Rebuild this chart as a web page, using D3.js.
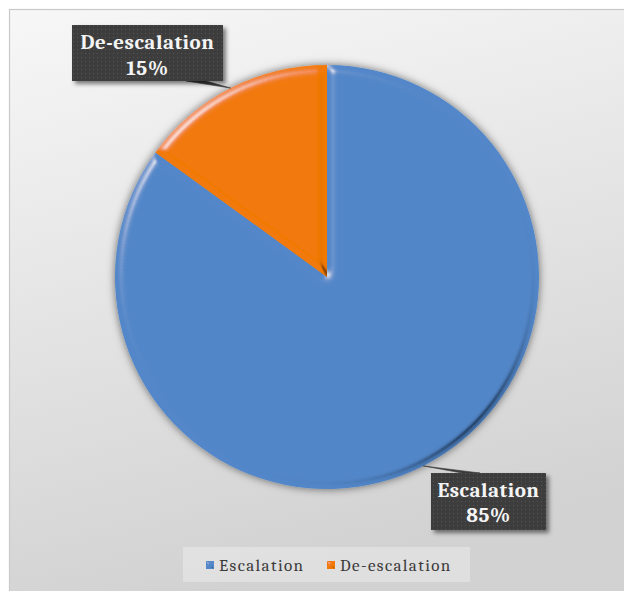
<!DOCTYPE html>
<html>
<head>
<meta charset="utf-8">
<script src="https://cdn.jsdelivr.net/npm/d3@7"></script>
<style>
  html, body { margin: 0; padding: 0; background: #ffffff; }
  svg { display: block; }
</style>
</head>
<body>
<svg id="chart" width="624" height="591"></svg>
<script>
// Share of cases by direction
const categories = ["Escalation", "De-escalation"];
const values = [85, 15];
const colors = ["#5287c9", "#f27a0a"];

const W = 624, H = 591;
const cx = 327, cy = 277, R = 212;
const serif = "Cambria, 'Liberation Serif', 'DejaVu Serif', serif";

const svg = d3.select("#chart");
const defs = svg.append("defs");

// Panel background gradient
const bg = defs.append("linearGradient").attr("id", "bgGrad")
  .attr("x1", 0).attr("y1", 0).attr("x2", 0.25).attr("y2", 1);
bg.append("stop").attr("offset", "0%").attr("stop-color", "#f7f7f7");
bg.append("stop").attr("offset", "100%").attr("stop-color", "#d2d2d2");

// Bevel: highlight from top-left, shade toward bottom-right
function makeBevel(id, blur, scale) {
  const f = defs.append("filter").attr("id", id)
    .attr("x", "-5%").attr("y", "-5%").attr("width", "110%").attr("height", "110%");
  f.append("feGaussianBlur").attr("in", "SourceAlpha").attr("stdDeviation", blur).attr("result", "blur");
  const hl = f.append("feSpecularLighting").attr("in", "blur")
    .attr("surfaceScale", scale).attr("specularConstant", 0.6).attr("specularExponent", 40)
    .attr("lighting-color", "#ffffff").attr("result", "hl");
  hl.append("feDistantLight").attr("azimuth", 225).attr("elevation", 35);
  f.append("feComposite").attr("in", "hl").attr("in2", "SourceAlpha").attr("operator", "in").attr("result", "hlIn");
  const sh = f.append("feSpecularLighting").attr("in", "blur")
    .attr("surfaceScale", scale).attr("specularConstant", 1).attr("specularExponent", 35)
    .attr("lighting-color", "#ffffff").attr("result", "shRaw");
  sh.append("feDistantLight").attr("azimuth", 45).attr("elevation", 30);
  f.append("feColorMatrix").attr("in", "shRaw").attr("type", "matrix")
    .attr("values", "0 0 0 0 0  0 0 0 0 0  0 0 0 0 0  0 0 0 0.75 0").attr("result", "shDark");
  f.append("feComposite").attr("in", "shDark").attr("in2", "SourceAlpha").attr("operator", "in").attr("result", "shIn");
  const m = f.append("feMerge");
  m.append("feMergeNode").attr("in", "SourceGraphic");
  m.append("feMergeNode").attr("in", "shIn");
  m.append("feMergeNode").attr("in", "hlIn");
}
makeBevel("bevel", 4.5, 5);
makeBevel("bevelSmall", 1, 2);

// Soft shadow around the whole pie
const pieShadow = defs.append("filter").attr("id", "pieShadow")
  .attr("x", "-10%").attr("y", "-10%").attr("width", "120%").attr("height", "120%");
pieShadow.append("feDropShadow").attr("dx", 0).attr("dy", 0).attr("stdDeviation", 4)
  .attr("flood-color", "#000").attr("flood-opacity", 0.55);

// Callout box shadow
const boxShadow = defs.append("filter").attr("id", "boxShadow")
  .attr("x", "-10%").attr("y", "-10%").attr("width", "130%").attr("height", "140%");
boxShadow.append("feDropShadow").attr("dx", 3).attr("dy", 3).attr("stdDeviation", 2)
  .attr("flood-color", "#000").attr("flood-opacity", 0.5);

// Dotted texture for callout boxes
const pat = defs.append("pattern").attr("id", "dots")
  .attr("width", 4).attr("height", 4).attr("patternUnits", "userSpaceOnUse");
pat.append("rect").attr("width", 4).attr("height", 4).attr("fill", "#3d3d3d");
pat.append("rect").attr("x", 1).attr("y", 1).attr("width", 1).attr("height", 1).attr("fill", "#555555");

// Panel
svg.append("rect").attr("x", 9.5).attr("y", 9.5).attr("width", W).attr("height", H)
  .attr("fill", "url(#bgGrad)").attr("stroke", "#c9c9c9").attr("stroke-width", 1.2);

// Pie
const pie = d3.pie().sort(null).value(d => d.value).startAngle(0).endAngle(2 * Math.PI);
const data = categories.map((c, i) => ({ name: c, value: values[i], color: colors[i] }));
const arcs = pie(data);
const arc = d3.arc().innerRadius(0).outerRadius(R);
const rim = d3.arc().innerRadius(R).outerRadius(R);

const g = svg.append("g").attr("transform", `translate(${cx},${cy})`);
const pieG = g.append("g").attr("filter", "url(#pieShadow)");
pieG.selectAll("path.slice").data(arcs).join("path")
  .attr("class", "slice")
  .attr("d", arc)
  .attr("fill", d => d.data.color)
  .attr("filter", "url(#bevel)");

// Callouts
const total = d3.sum(values);
const callouts = [
  { name: "De-escalation", box: [72, 25, 151, 56], anchor: [[186, 81], [206, 81]], lines: [49, 75] },
  { name: "Escalation", box: [431, 473, 115, 57], anchor: [[462, 473], [480, 473]], lines: [497, 522] }
];

callouts.forEach(co => {
  const d = arcs.find(a => a.data.name === co.name);
  const p = rim.centroid(d);
  const px = cx + p[0], py = cy + p[1];
  // leader wedge from box edge to slice rim
  svg.append("path")
    .attr("d", `M${co.anchor[0][0]},${co.anchor[0][1]} L${px},${py} L${co.anchor[1][0]},${co.anchor[1][1]} Z`)
    .attr("fill", "#3d3d3d").attr("stroke", "#3d3d3d").attr("stroke-width", 0.6);
  const [bx, by, bw, bh] = co.box;
  svg.append("rect").attr("x", bx).attr("y", by).attr("width", bw).attr("height", bh)
    .attr("fill", "url(#dots)").attr("filter", "url(#boxShadow)");
  const tx = bx + bw / 2;
  const txt = svg.append("g").attr("font-family", serif).attr("font-weight", "bold")
    .attr("font-size", 21).attr("fill", "#f4f4f4").attr("text-anchor", "middle");
  txt.append("text").attr("x", tx).attr("y", co.lines[0]).attr("letter-spacing", 0.5).text(d.data.name);
  txt.append("text").attr("x", tx).attr("y", co.lines[1]).attr("letter-spacing", 0.5)
    .text(Math.round(d.data.value / total * 100) + "%");
});

// Legend
const legend = svg.append("g");
legend.append("rect").attr("x", 183).attr("y", 547).attr("width", 287).attr("height", 35)
  .attr("fill", "#ffffff").attr("fill-opacity", 0.3);
const legendX = [206, 327];
categories.forEach((c, i) => {
  const item = legend.append("g").attr("transform", `translate(${legendX[i]},561)`);
  item.append("rect").attr("width", 8).attr("height", 8).attr("fill", colors[i])
    .attr("filter", "url(#bevelSmall)");
  item.append("text").attr("x", 13).attr("y", 9.5)
    .attr("font-family", serif).attr("font-size", 17).attr("letter-spacing", 1.4)
    .attr("fill", "#3a3a3a").text(c);
});
</script>
</body>
</html>
